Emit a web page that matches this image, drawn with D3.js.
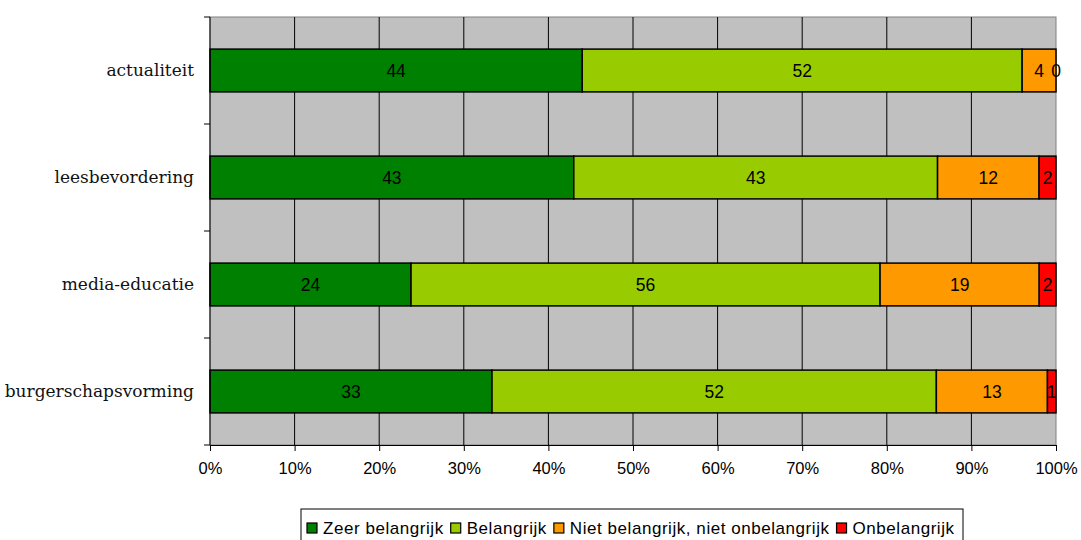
<!DOCTYPE html>
<meta charset="utf-8">
<script src="https://d3js.org/d3.v7.min.js"></script>
<style>
body { margin: 0; background: #fff; }
.axis text { font: 16.5px "Liberation Sans", Arial, sans-serif; fill: #000; }
.cat text { font: 17px "DejaVu Serif", serif; fill: #111; }
</style>
<body>
<script>
var categories = ['actualiteit', 'leesbevordering', 'media-educatie', 'burgerschapsvorming'];
var seriesNames = ['Zeer belangrijk', 'Belangrijk', 'Niet belangrijk, niet onbelangrijk', 'Onbelangrijk'];
var seriesColors = ['#008000', '#99cc00', '#ff9900', '#ff0000'];
var zeerBelangrijk = [44, 43, 24, 33];
var belangrijk = [52, 43, 56, 52];
var nietBelangrijk = [4, 12, 19, 13];
var onbelangrijk = [0, 2, 2, 1];
var xTicks = [0, 0.1, 0.2, 0.3, 0.4, 0.5, 0.6, 0.7, 0.8, 0.9, 1];

var W = 1081, H = 540;
var margin = {top: 17, right: 25, bottom: 95, left: 210};
var w = 1056 - margin.left, h = 445 - margin.top;

var svg = d3.select('body').append('svg')
    .attr('width', W).attr('height', H);

var g = svg.append('g').attr('transform', 'translate(' + margin.left + ',' + margin.top + ')');

var x = d3.scaleLinear().domain([0, 1]).range([0, w]);
var y = d3.scaleBand().domain(categories).range([0, h]).paddingInner(0.6).paddingOuter(0.3);
var yBand = d3.scaleBand().domain(categories).range([0, h]);

// background
g.append('rect').attr('width', w).attr('height', h).attr('fill', '#c0c0c0')
    .attr('stroke', '#808080').attr('stroke-width', 1);

// gridlines
g.selectAll('.grid').data(xTicks.slice(1, -1)).enter().append('line')
    .attr('x1', d => x(d)).attr('x2', d => x(d))
    .attr('y1', 0).attr('y2', h)
    .attr('stroke', '#000').attr('stroke-width', 1);

var rows = categories.map(function(c, i) {
    var vals = [zeerBelangrijk[i], belangrijk[i], nietBelangrijk[i], onbelangrijk[i]];
    var total = d3.sum(vals);
    var cum = 0;
    return vals.map(function(v, k) {
        var seg = {cat: c, k: k, v: v, x0: cum / total, x1: (cum + v) / total};
        cum += v;
        return seg;
    });
});
var segs = rows.flat();

g.selectAll('.bar').data(segs).enter().append('rect')
    .attr('x', d => x(d.x0))
    .attr('y', d => y(d.cat))
    .attr('width', d => x(d.x1) - x(d.x0))
    .attr('height', y.bandwidth())
    .attr('fill', d => seriesColors[d.k])
    .attr('stroke', '#000').attr('stroke-width', 1.5);

g.selectAll('.lbl').data(segs).enter().append('text')
    .attr('x', d => (x(d.x0) + x(d.x1)) / 2)
    .attr('y', d => y(d.cat) + y.bandwidth() / 2)
    .attr('dy', '0.36em')
    .attr('text-anchor', 'middle')
    .style('font', '17.5px "Liberation Sans", Arial, sans-serif')
    .text(d => d.v);

// left axis
var left = g.append('g').attr('class', 'cat');
left.append('line').attr('x1', 0).attr('x2', 0).attr('y1', 0).attr('y2', h)
    .attr('stroke', '#000').attr('stroke-width', 1);
var bandEdges = categories.map(c => yBand(c)).concat([h]);
left.selectAll('.tk').data(bandEdges).enter().append('line')
    .attr('x1', -6).attr('x2', 0).attr('y1', d => d).attr('y2', d => d)
    .attr('stroke', '#000');
left.selectAll('.cl').data(categories).enter().append('text')
    .attr('x', -16)
    .attr('y', d => yBand(d) + yBand.bandwidth() / 2)
    .attr('dy', '0.32em')
    .attr('text-anchor', 'end')
    .text(d => d);

// bottom axis
var xAxis = g.append('g').attr('class', 'axis')
    .attr('transform', 'translate(0,' + h + ')')
    .call(d3.axisBottom(x).tickValues(xTicks).tickFormat(d3.format('.0%')).tickSize(6).tickPadding(11));
xAxis.select('.domain').attr('stroke', '#000');

// legend
var legend = svg.append('g').attr('transform', 'translate(301,509)');
legend.append('rect').attr('width', 662).attr('height', 40)
    .attr('fill', '#fff').attr('stroke', '#000').attr('stroke-width', 1);
var lx = 6;
seriesNames.forEach(function(n, i) {
    var it = legend.append('g').attr('transform', 'translate(' + lx + ',0)');
    it.append('rect').attr('x', 0).attr('y', 14).attr('width', 10).attr('height', 10)
        .attr('fill', seriesColors[i]).attr('stroke', '#000').attr('stroke-width', 1.2);
    var t = it.append('text').attr('x', 16).attr('y', 24.5)
        .style('font', '17px "Liberation Sans", Arial, sans-serif')
        .style('letter-spacing', '0.55px')
        .text(n);
    lx += 16 + t.node().getComputedTextLength() + 7;
});
</script>
</body>
